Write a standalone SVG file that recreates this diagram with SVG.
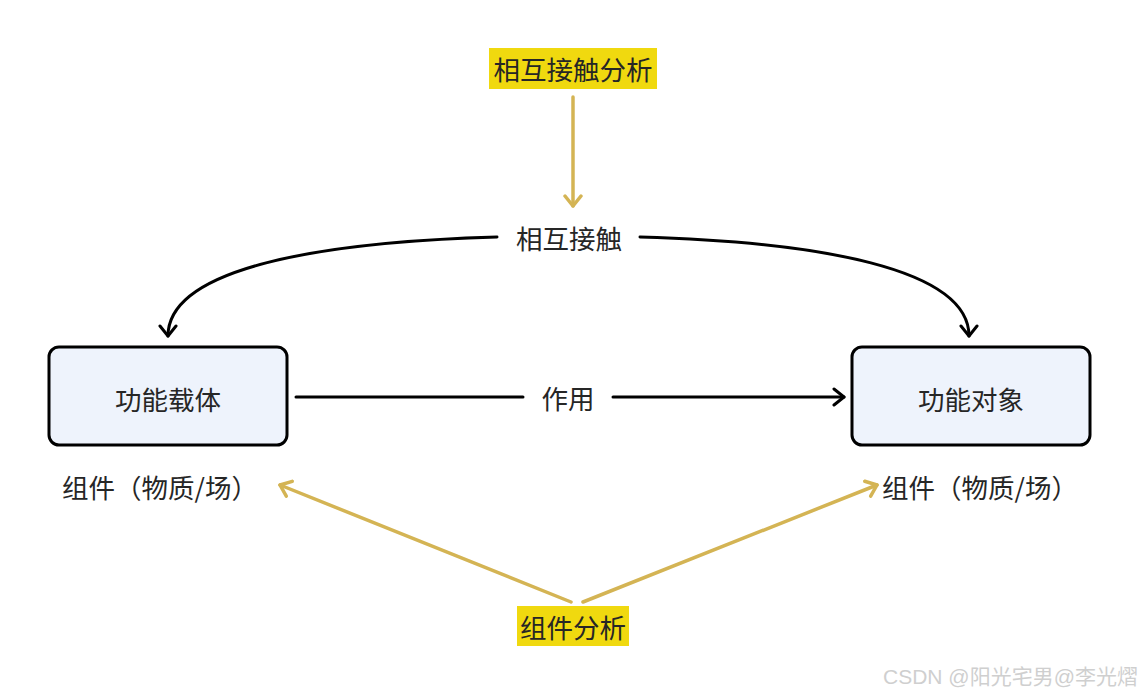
<svg xmlns="http://www.w3.org/2000/svg" width="1140" height="696" viewBox="0 0 1140 696">
<style>
.t{font-family:"Noto Sans CJK SC","Noto Sans",sans-serif;font-size:26.5px;fill:#262626;text-anchor:middle;dominant-baseline:central}
.box{fill:#eef3fc;stroke:#000;stroke-width:3}
.blk{fill:none;stroke:#000;stroke-width:3;stroke-linecap:round}
.yel{fill:none;stroke:#d4b454;stroke-width:3.5;stroke-linecap:round}
.hl{fill:#f0d90f}
</style>
<defs>
<marker id="ab" viewBox="0 0 20 20" refX="16" refY="10" markerWidth="20" markerHeight="20" markerUnits="userSpaceOnUse" orient="auto">
<path d="M6,2 L16,10 L6,18" fill="none" stroke="#000" stroke-width="3" stroke-linecap="round" stroke-linejoin="round"/>
</marker>
<marker id="ay" viewBox="0 0 20 20" refX="16" refY="10" markerWidth="20" markerHeight="20" markerUnits="userSpaceOnUse" orient="auto">
<path d="M6,2 L16,10 L6,18" fill="none" stroke="#d4b454" stroke-width="3.5" stroke-linecap="round" stroke-linejoin="round"/>
</marker>
</defs>
<rect width="1140" height="696" fill="#fff"/>
<g id="connectors">
<path class="yel" d="M573,97 L573,206" marker-end="url(#ay)"/>
<path class="blk" d="M497,237 C320,242 168,268 168,336" marker-end="url(#ab)"/>
<path class="blk" d="M640,237 C817,242 969,268 969,336" marker-end="url(#ab)"/>
<path class="blk" d="M296,397 L523,397"/>
<path class="blk" d="M613,397 L844,397" marker-end="url(#ab)"/>
<path class="yel" d="M571,602 L280,485" marker-end="url(#ay)"/>
<path class="yel" d="M583,602 L877,485" marker-end="url(#ay)"/>
</g>
<g id="label-top">
<rect class="hl" x="489" y="48" width="168" height="41"/>
<text class="t" x="573" y="68">相互接触分析</text>
</g>
<g id="label-contact">
<text class="t" x="569" y="237">相互接触</text>
</g>
<g id="node-carrier">
<rect class="box" x="49" y="347" width="238" height="98" rx="10"/>
<text class="t" x="168" y="398">功能载体</text>
</g>
<g id="node-object">
<rect class="box" x="852" y="347" width="238" height="98" rx="10"/>
<text class="t" x="971" y="398">功能对象</text>
</g>
<g id="label-action">
<text class="t" x="568" y="397">作用</text>
</g>
<g id="label-comp-left">
<text class="t" x="160" y="486">组件（物质/场）</text>
</g>
<g id="label-comp-right">
<text class="t" x="980" y="486">组件（物质/场）</text>
</g>
<g id="label-bottom">
<rect class="hl" x="517" y="606" width="112" height="40"/>
<text class="t" x="573" y="626">组件分析</text>
</g>
<g id="watermark">
<text x="883" y="684" style="font-family:'Liberation Sans','Noto Sans CJK SC',sans-serif;font-size:21px;fill:#cfcfcf">CSDN @阳光宅男@李光熠</text>
</g>
</svg>
